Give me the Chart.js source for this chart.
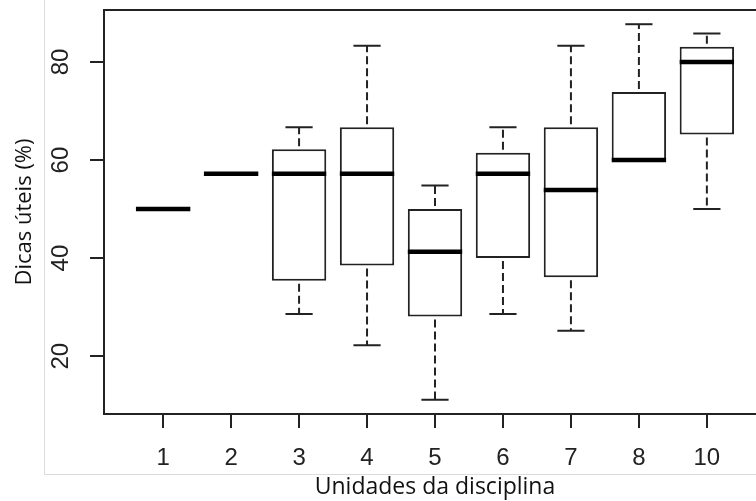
<!DOCTYPE html>
<html>
<head>
<meta charset="utf-8">
<script src="https://cdn.jsdelivr.net/npm/chart.js@4/dist/chart.umd.min.js"></script>
<style>
  html, body { margin: 0; padding: 0; background: #fff; overflow: hidden; }
  #wrap { position: relative; width: 800px; height: 501px; }
  #frame { position: absolute; left: 44px; top: -2px; width: 760px; height: 476px;
           border-left: 1px solid #dcdcdc; border-bottom: 1px solid #dcdcdc; }
  canvas { position: relative; }
</style>
</head>
<body>
<div id="wrap">
  <div id="frame"></div>
  <canvas id="myChart"></canvas>
</div>
<script>
const units = ['1', '2', '3', '4', '5', '6', '7', '8', '10'];
const whiskerLow  = [50, 57.2, 28.6, 22.2, 11.1, 28.6, 25.2, 60, 50];
const q1          = [50, 57.2, 35.4, 38.5, 28.1, 40.0, 36.1, 60, 65.2];
const medians     = [50, 57.2, 57.2, 57.2, 41.3, 57.2, 53.9, 60, 80];
const q3          = [50, 57.2, 62.2, 66.7, 50.0, 61.5, 66.7, 73.9, 83.1];
const whiskerHigh = [50, 57.2, 66.7, 83.3, 54.8, 66.7, 83.3, 87.7, 85.8];
const yTicks = [20, 40, 60, 80];

const ink = "#222";
let ctx = document.getElementById('myChart').getContext('2d');

const boxes = units.map((u, i) => ({ x: i + 1, y: [q1[i], q3[i]] }));

// whiskers, caps, medians and the plot frame
const boxExtras = {
  id: 'boxExtras',
  afterDatasetsDraw(chart) {
    const c = chart.ctx;
    const xs = chart.scales.x;
    const ys = chart.scales.y;
    const step = xs.getPixelForValue(2) - xs.getPixelForValue(1);
    const half = step * 0.4;
    const cap = step * 0.2;
    c.save();
    c.strokeStyle = ink;
    for (let i = 0; i < units.length; i++) {
      const px = xs.getPixelForValue(i + 1);
      const yHi = ys.getPixelForValue(whiskerHigh[i]);
      const yQ3 = ys.getPixelForValue(q3[i]);
      const yQ1 = ys.getPixelForValue(q1[i]);
      const yLo = ys.getPixelForValue(whiskerLow[i]);
      c.lineWidth = 2;
      c.setLineDash([8, 4]);
      c.lineDashOffset = -3;
      c.beginPath();
      if (whiskerHigh[i] > q3[i]) { c.moveTo(px, yQ3); c.lineTo(px, yHi); }
      if (whiskerLow[i] < q1[i]) { c.moveTo(px, yQ1); c.lineTo(px, yLo); }
      c.stroke();
      c.setLineDash([]);
      c.beginPath();
      if (whiskerHigh[i] > q3[i]) { c.moveTo(px - cap, yHi); c.lineTo(px + cap, yHi); }
      if (whiskerLow[i] < q1[i]) { c.moveTo(px - cap, yLo); c.lineTo(px + cap, yLo); }
      c.stroke();
      const yMed = ys.getPixelForValue(medians[i]);
      c.lineWidth = 4.5;
      c.strokeStyle = "#000";
      c.beginPath();
      c.moveTo(px - half, yMed);
      c.lineTo(px + half, yMed);
      c.stroke();
      c.strokeStyle = ink;
    }
    const a = chart.chartArea;
    c.lineWidth = 2;
    c.strokeRect(a.left, a.top, a.right - a.left, a.bottom - a.top);
    c.restore();
  }
};

const myChart = new Chart(ctx, {
  type: 'bar',
  data: {
    datasets: [{
      data: boxes,
      backgroundColor: "#fff",
      borderColor: ink,
      borderWidth: 2,
      borderSkipped: false,
      barPercentage: 0.8,
      categoryPercentage: 1.0
    }]
  },
  options: {
    responsive: true,
    maintainAspectRatio: false,
    animation: false,
    layout: { autoPadding: false, padding: { top: 10, right: 34, bottom: 0, left: 0 } },
    plugins: {
      legend: { display: false },
      tooltip: { enabled: false }
    },
    scales: {
      x: {
        type: 'linear',
        offset: false,
        min: 0.13,
        max: 9.87,
        afterBuildTicks: (s) => { s.ticks = units.map((u, i) => ({ value: i + 1 })); },
        afterFit: (s) => { s.height = 87; s.paddingLeft = 0; s.paddingRight = 0; },
        grid: { offset: false, drawOnChartArea: false, drawTicks: true, tickLength: 14, color: ink, lineWidth: 2 },
        border: { display: false },
        ticks: {
          padding: 16,
          color: ink,
          maxRotation: 0,
          font: { family: "'Liberation Sans', Arial, sans-serif", size: 24 },
          callback: (v) => units[v - 1]
        },
        title: {
          display: true,
          text: 'Unidades da disciplina',
          color: "#111",
          font: { family: "'Open Sans', sans-serif", size: 23 },
          padding: { top: 0, bottom: 0 }
        }
      },
      y: {
        min: 8.2,
        max: 90.6,
        afterBuildTicks: (s) => { s.ticks = yTicks.map(v => ({ value: v })); },
        afterFit: (s) => { s.width = 104; s.paddingTop = 0; s.paddingBottom = 0; },
        grid: { drawOnChartArea: false, drawTicks: true, tickLength: 14, color: ink, lineWidth: 2 },
        border: { display: false },
        ticks: {
          padding: 15,
          color: ink,
          minRotation: 90,
          maxRotation: 90,
          crossAlign: 'center',
          font: { family: "'Liberation Sans', Arial, sans-serif", size: 24 }
        },
        title: {
          display: true,
          text: 'Dicas úteis (%)',
          color: "#111",
          font: { family: "'Open Sans', sans-serif", size: 22 },
          padding: { top: 12, bottom: 0 }
        }
      }
    }
  },
  plugins: [boxExtras]
});
</script>
</body>
</html>
